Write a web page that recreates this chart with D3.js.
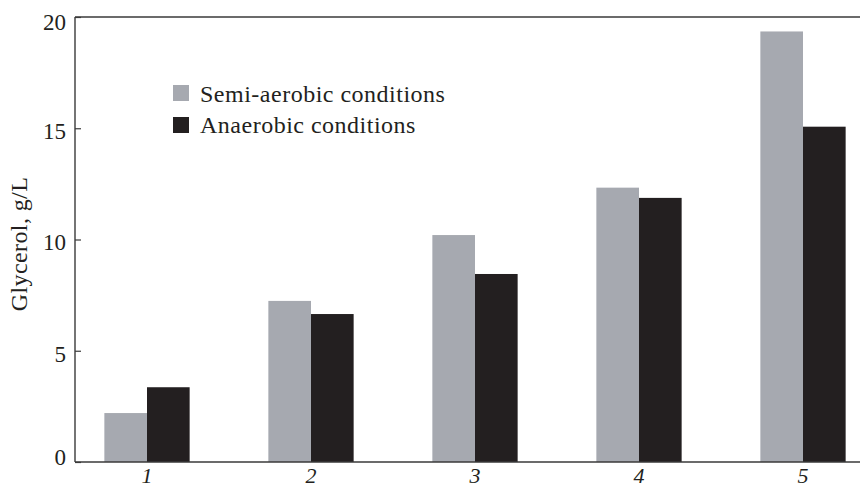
<!DOCTYPE html>
<html><head><meta charset="utf-8">
<script src="https://cdn.jsdelivr.net/npm/d3@7"></script>
<style>body{margin:0;background:#fff}svg{display:block}</style>
</head><body>
<svg id="c" width="860" height="488"></svg>
<script>
const categories = ["1","2","3","4","5"];
const seriesNames = ["Semi-aerobic conditions","Anaerobic conditions"];
const semiAerobic = [2.2, 7.24, 10.2, 12.33, 19.35];
const anaerobic = [3.36, 6.65, 8.45, 11.87, 15.07];
const yTicks = [0,5,10,15,20];
const colors = ["#a6a9b0","#231f20"];

const svg = d3.select("#c");
const L = 75, R = 860, T = 17, B = 462;
const font = "'Liberation Serif','DejaVu Serif',serif";
const y = d3.scaleLinear().domain([0,20]).range([B, T]);
const x = d3.scaleBand().domain(categories).range([65, 885]).paddingInner(0.48).paddingOuter(0.24);
const xs = d3.scaleBand().domain(seriesNames).range([0, x.bandwidth()]);
const series = [semiAerobic, anaerobic];

// bars
series.forEach((vals, si) => {
  svg.append("g").selectAll("rect").data(categories).join("rect")
    .attr("x", c => x(c) + xs(seriesNames[si]))
    .attr("width", xs.bandwidth())
    .attr("y", (c,i) => y(vals[i]))
    .attr("height", (c,i) => B - y(vals[i]))
    .attr("fill", colors[si]);
});

// axes
const stroke = "#3a3a3a";
svg.append("line").attr("x1",L).attr("x2",R).attr("y1",T).attr("y2",T).attr("stroke",stroke).attr("stroke-width",1.4);
svg.append("line").attr("x1",L).attr("x2",R).attr("y1",B).attr("y2",B).attr("stroke",stroke).attr("stroke-width",1.4);

const yAxis = d3.axisLeft(y).tickValues(yTicks).tickSize(-6).tickPadding(9).tickFormat(d3.format("d"));
const gy = svg.append("g").attr("transform",`translate(${L},0)`).call(yAxis);
gy.select(".domain").attr("stroke",stroke).attr("stroke-width",1.4).attr("d",`M0,${T}V${B}`);
gy.selectAll(".tick line").attr("stroke",stroke).attr("stroke-width",1.2);
gy.selectAll(".tick text").attr("font-family",font).attr("font-size",23).attr("fill","#231f20")
  .attr("dy", d => d === 20 ? "0.55em" : (d === 0 ? "0.1em" : "0.45em"));

const xAxis = d3.axisBottom(x).tickSize(0).tickPadding(5);
const gx = svg.append("g").attr("transform",`translate(0,${B})`).call(xAxis);
gx.select(".domain").remove();
gx.selectAll(".tick text").attr("font-family",font).attr("font-size",22).attr("font-style","italic").attr("fill","#231f20");

// y label
svg.append("text").attr("transform","translate(27,244) rotate(-90)")
  .attr("text-anchor","middle").attr("font-family",font).attr("font-size",24)
  .attr("letter-spacing",0.4).attr("fill","#231f20")
  .text("Glycerol, g/L");

// legend
const lg = svg.append("g").attr("transform","translate(173,85)");
seriesNames.forEach((n,i) => {
  lg.append("rect").attr("x",0).attr("y",i*32).attr("width",16).attr("height",16).attr("fill",colors[i]);
  lg.append("text").attr("x",27).attr("y",i*31+17).attr("font-family",font).attr("font-size",24)
    .attr("letter-spacing",0.5).attr("fill","#231f20").text(n);
});
</script>
</body></html>
